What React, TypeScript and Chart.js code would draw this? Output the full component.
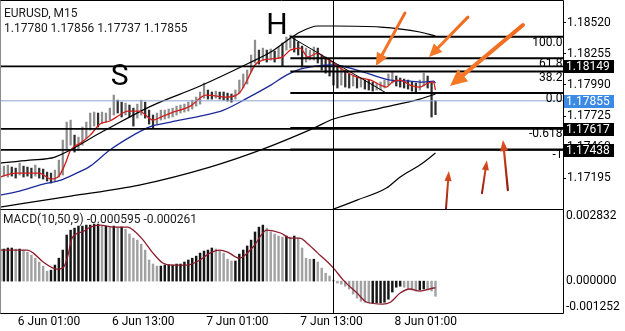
import React, { useEffect, useRef } from 'react';
import { Chart, registerables } from 'chart.js';

Chart.register(...registerables);

const FONT_FAMILY = 'Roboto, "Noto Sans", "DejaVu Sans", sans-serif';

// ---------- time axis: index of the M15 bar ----------
const X_MIN = 0;
const X_MAX = 287;
const BAR_STEP = 2;
const TIME_TICKS = [25, 73, 121, 169, 217];
const TIME_LABELS = ['6 Jun 01:00', '6 Jun 13:00', '7 Jun 01:00', '7 Jun 13:00', '8 Jun 01:00'];
const VLINE_INDEX = 170;

// ---------- price panel ----------
const PRICE_MIN = 1.16934;
const PRICE_MAX = 1.18705;
const PRICE_TICKS = [1.17195, 1.1746, 1.17725, 1.1799, 1.18255, 1.1852];

const HIGHS = [
  1.17282, 1.17299, 1.17308, 1.17291, 1.17282, 1.17325, 1.17299, 1.17291, 1.17282, 1.17308,
  1.17282, 1.17274, 1.17248, 1.1724, 1.17265, 1.1735, 1.17521, 1.17674, 1.17691, 1.17563,
  1.17546, 1.17632, 1.17674, 1.17751, 1.17759, 1.17751, 1.17759, 1.17751, 1.17793, 1.17904,
  1.17861, 1.17844, 1.17836, 1.17819, 1.17793, 1.17827, 1.17861, 1.17844, 1.17776, 1.17734,
  1.17751, 1.17776, 1.17776, 1.17785, 1.17793, 1.1781, 1.17819, 1.17827, 1.17844, 1.17861,
  1.17887, 1.1793, 1.18006, 1.17947, 1.1793, 1.17938, 1.1793, 1.1793, 1.17921, 1.17913,
  1.17947, 1.18032, 1.18083, 1.18117, 1.18245, 1.18372, 1.18287, 1.18304, 1.18287, 1.18296,
  1.18279, 1.18313, 1.18347, 1.18398, 1.18415, 1.18389, 1.18355, 1.18321, 1.18304, 1.18287,
  1.18313, 1.18304, 1.18245, 1.18228, 1.18202, 1.18177, 1.1816, 1.18142, 1.18117, 1.18083,
  1.18066, 1.18057, 1.18049, 1.18032, 1.18032, 1.18015, 1.18006, 1.18015, 1.18032, 1.18083,
  1.181, 1.18066, 1.18049, 1.1804, 1.18032, 1.18015, 1.18006, 1.18032, 1.18091, 1.18066,
  1.18015, 1.17856,
];
const LOWS = [
  1.17197, 1.17214, 1.17206, 1.17214, 1.17197, 1.17223, 1.17206, 1.17214, 1.17197, 1.17214,
  1.17197, 1.17189, 1.17172, 1.17155, 1.17172, 1.17206, 1.17223, 1.17436, 1.17478, 1.17419,
  1.17436, 1.17478, 1.17538, 1.17606, 1.1764, 1.17632, 1.17666, 1.17674, 1.17691, 1.17734,
  1.17751, 1.17717, 1.17734, 1.17717, 1.1764, 1.17708, 1.17734, 1.17708, 1.17657, 1.17623,
  1.17657, 1.17691, 1.177, 1.17708, 1.17717, 1.17734, 1.17751, 1.17759, 1.17768, 1.17785,
  1.1781, 1.17827, 1.17878, 1.1787, 1.1787, 1.17878, 1.1787, 1.17861, 1.17853, 1.17844,
  1.1787, 1.17921, 1.17964, 1.17998, 1.181, 1.18177, 1.18168, 1.18202, 1.18185, 1.18202,
  1.18185, 1.18219, 1.18151, 1.18287, 1.18304, 1.1827, 1.18245, 1.18142, 1.18185, 1.18202,
  1.18202, 1.18177, 1.18117, 1.18091, 1.18066, 1.17989, 1.17964, 1.17989, 1.17972, 1.17964,
  1.17981, 1.17964, 1.17972, 1.17955, 1.17947, 1.17938, 1.17947, 1.17947, 1.17964, 1.17989,
  1.18006, 1.17981, 1.17972, 1.17964, 1.17955, 1.17938, 1.1793, 1.17947, 1.17981, 1.17964,
  1.17717, 1.17737,
];

// indicator lines: [bar index, price]
const MA_FAST = [
  [0, 1.17206], [8, 1.1724], [20, 1.1724], [26, 1.17189], [30, 1.17214], [33, 1.17308],
  [36, 1.17436], [41, 1.17495], [46, 1.17563], [51, 1.17657], [56, 1.17683], [61, 1.17734],
  [65, 1.17768], [71, 1.17768], [78, 1.17691], [82, 1.17717], [87, 1.17751], [97, 1.1781],
  [105, 1.17904], [116, 1.17887], [122, 1.17921], [126, 1.18032], [130, 1.1816], [134, 1.18202],
  [144, 1.18228], [148, 1.18287], [153, 1.18304], [157, 1.18228], [162, 1.18262], [165, 1.18228],
  [170, 1.18177], [175, 1.18117], [182, 1.18057], [189, 1.18032], [194, 1.17989], [197, 1.17972],
  [200, 1.18015], [204, 1.18032], [209, 1.17989], [214, 1.17972], [218, 1.18006], [221, 1.18015],
  [222, 1.17947],
];
const MA_MID = [
  [0, 1.17052], [10, 1.17086], [22, 1.17146], [31, 1.1718], [38, 1.17231], [46, 1.17299],
  [56, 1.17436], [68, 1.17563], [76, 1.17632], [87, 1.17674], [102, 1.17725], [114, 1.17776],
  [127, 1.17887], [138, 1.17989], [146, 1.18074], [153, 1.18125], [161, 1.18151], [170, 1.1816],
  [182, 1.18117], [199, 1.18032], [209, 1.18023], [216, 1.18015], [221, 1.18023], [222, 1.18006],
];
const BAND_UPPER = [
  [0, 1.17325], [15, 1.1735], [28, 1.17376], [51, 1.17581], [77, 1.1781], [102, 1.17981],
  [127, 1.18177], [138, 1.1827], [146, 1.18364], [153, 1.18441], [162, 1.18492], [170, 1.18492],
  [194, 1.18483], [214, 1.18441], [222, 1.18406],
];
const MA_SLOW = [
  [0, 1.1695], [36, 1.17044], [71, 1.17138], [107, 1.17291], [134, 1.17444], [160, 1.17623],
  [170, 1.177], [194, 1.17793], [214, 1.1787], [222, 1.17913],
];
const MA_SLOWEST = [
  [163, 1.16891], [170, 1.16933], [182, 1.1701], [197, 1.17112], [204, 1.17206], [214, 1.17308],
  [222, 1.1741],
];

const HLINES = [1.18149, 1.17617, 1.17438];
const CURRENT_PRICE = 1.17855;

const FIB_HIGH = 1.18401;
const FIB_LOW = 1.17921;
const FIB_START = 148;
const FIB_END = 197;
const FIB_LEVELS = [100, 61.8, 38.2, 0, -61.8, -100];
const FIB_LABELS = ['100.0', '61.8', '38.2', '0.0', '-0.618', '-1'];

const BOX_PRICES = [1.18149, 1.17855, 1.17617, 1.17438];
const BOX_LABELS = ['1.18149', '1.17855', '1.17617', '1.17438'];

const PATTERN_LABELS = ['S', 'H'];
const PATTERN_POS = [[61, 1.18057], [141.2, 1.18492]];

const ARROW_TAILS = [[206.4, 1.18602], [238.5, 1.18568], [266.6, 1.185], [227.3, 1.16925], [245.7, 1.17069], [258.9, 1.17095]];
const ARROW_HEADS = [[191.6, 1.18151], [218.7, 1.18228], [229.4, 1.17981], [228.8, 1.17257], [248.2, 1.1735], [256.4, 1.17521]];

const HEADER_TITLE = 'EURUSD, M15';
const HEADER_OHLC = '1.17780 1.17856 1.17737 1.17855';

// ---------- MACD panel ----------
const MACD_MIN = -0.001252;
const MACD_MAX = 0.002832;
const MACD_AXIS_VALUES = [0.002832, 0, -0.001252];
const MACD_AXIS_LABELS = ['0.002832', '0.000000', '-0.001252'];
const MACD_TITLE = 'MACD(10,50,9) -0.000595 -0.000261';
const MACD_HIST = [
  0.00126, 0.00126, 0.0013, 0.0013, 0.00126, 0.00126, 0.00122, 0.00114, 0.00102, 0.0009,
  0.00075, 0.00059, 0.00039, 0.00043, 0.00063, 0.0009, 0.00122, 0.00181, 0.002, 0.00208,
  0.00216, 0.00216, 0.0022, 0.0022, 0.00224, 0.00224, 0.00216, 0.00216, 0.00212, 0.00216,
  0.00212, 0.00212, 0.00204, 0.00185, 0.00169, 0.00161, 0.00145, 0.00122, 0.00083, 0.00067,
  0.00059, 0.00059, 0.00063, 0.00063, 0.00063, 0.00067, 0.00067, 0.00075, 0.00083, 0.0009,
  0.00098, 0.0011, 0.00118, 0.00122, 0.0013, 0.00126, 0.00118, 0.0011, 0.00086, 0.00079,
  0.00079, 0.00106, 0.00122, 0.00138, 0.00161, 0.00193, 0.00212, 0.0022, 0.00208, 0.00193,
  0.00185, 0.00177, 0.00173, 0.00177, 0.00173, 0.00177, 0.00169, 0.0013, 0.0009, 0.00086,
  0.00086, 0.00075, 0.00051, 0.00031, 0.0002, 0.00004, -0.00008, -0.00012, -0.0002, -0.00031,
  -0.00051, -0.00067, -0.00079, -0.00083, -0.00086, -0.00086, -0.00086, -0.00086, -0.00083, -0.00071,
  -0.00043, -0.00024, -0.0002, -0.00024, -0.00031, -0.00035, -0.00039, -0.00035, -0.00031, -0.00035,
  -0.00039, -0.000595,
];
const MACD_SIGNAL = [
  [0, 0.00122], [14, 0.00122], [17, 0.0011], [22, 0.00075], [29, 0.00047], [32, 0.00051],
  [34, 0.00083], [37, 0.00173], [42, 0.00193], [46, 0.00212], [51, 0.0022], [58, 0.00212],
  [65, 0.00212], [68, 0.002], [73, 0.00161], [78, 0.0011], [83, 0.00071], [88, 0.00063],
  [95, 0.00063], [102, 0.00083], [107, 0.0011], [112, 0.00122], [116, 0.00114], [122, 0.0009],
  [129, 0.00134], [136, 0.002], [143, 0.00189], [148, 0.00169], [153, 0.00169], [156, 0.00153],
  [162, 0.0011], [167, 0.00075], [170, 0.00051], [175, 0.00004], [182, -0.00047], [187, -0.00083],
  [195, -0.0009], [199, -0.00083], [204, -0.00047], [209, -0.00031], [214, -0.00039], [221, -0.00027],
  [222, -0.000261],
];

// ---------- helpers ----------
const font = (size: number) => `${size}px ${FONT_FAMILY}`;
const pts = (arr: number[][]) => arr.map(([x, y]) => ({ x, y }));
const hline = (price: number, x0 = X_MIN, x1 = X_MAX) => [{ x: x0, y: price }, { x: x1, y: price }];
const fibPrice = (lv: number) => FIB_LOW + ((FIB_HIGH - FIB_LOW) * lv) / 100;

const smoothLine = (data: any, color: string, width = 1.3) => ({
  type: 'line',
  data,
  borderColor: color,
  borderWidth: width,
  pointRadius: 0,
  fill: false,
  tension: 0.4,
  cubicInterpolationMode: 'monotone',
});
const straightLine = (data: any, color: string, width: number) => ({
  type: 'line',
  data,
  borderColor: color,
  borderWidth: width,
  pointRadius: 0,
  fill: false,
  tension: 0,
});

const ARROW_STYLES = [
  { c0: '#f06a1e', c1: '#f47a28', w: 3, hl: 13, hw: 12 },
  { c0: '#f06a1e', c1: '#f47a28', w: 3, hl: 13, hw: 12 },
  { c0: '#f06a1e', c1: '#f47a28', w: 4, hl: 17, hw: 16 },
  { c0: '#8d1a12', c1: '#e3501e', w: 2, hl: 10, hw: 7 },
  { c0: '#8d1a12', c1: '#e3501e', w: 2, hl: 10, hw: 7 },
  { c0: '#8d1a12', c1: '#e3501e', w: 2.2, hl: 11, hw: 8 },
];

function drawArrow(ctx: CanvasRenderingContext2D, x1: number, y1: number, x2: number, y2: number, st: any) {
  const ang = Math.atan2(y2 - y1, x2 - x1);
  const bx = x2 - st.hl * Math.cos(ang);
  const by = y2 - st.hl * Math.sin(ang);
  const g = ctx.createLinearGradient(x1, y1, x2, y2);
  g.addColorStop(0, st.c0);
  g.addColorStop(1, st.c1);
  ctx.strokeStyle = g;
  ctx.fillStyle = g;
  ctx.lineWidth = st.w;
  ctx.lineCap = 'round';
  ctx.beginPath();
  ctx.moveTo(x1, y1);
  ctx.lineTo(bx, by);
  ctx.stroke();
  const hx = (st.hw / 2) * Math.sin(ang);
  const hy = (st.hw / 2) * Math.cos(ang);
  ctx.beginPath();
  ctx.moveTo(x2, y2);
  ctx.lineTo(bx + hx, by - hy);
  ctx.lineTo(bx - hx, by + hy);
  ctx.closePath();
  ctx.fill();
}

function drawFrame(chart: any) {
  const { ctx, chartArea: a } = chart;
  const xs = chart.scales.x;
  ctx.save();
  ctx.lineWidth = 1;
  ctx.strokeStyle = '#000';
  const top = Math.round(a.top) - 0.5 < 0 ? 0.5 : Math.round(a.top) - 0.5;
  const bottom = Math.round(a.bottom) + 0.5;
  const right = Math.round(a.right) + 0.5;
  ctx.beginPath();
  ctx.moveTo(0, top);
  ctx.lineTo(right, top);
  ctx.lineTo(right, bottom);
  ctx.lineTo(0, bottom);
  ctx.stroke();
  ctx.strokeStyle = '#8c8c8c';
  ctx.beginPath();
  ctx.moveTo(0.5, top);
  ctx.lineTo(0.5, bottom);
  ctx.stroke();
  // vertical marker line
  const vx = Math.round(xs.getPixelForValue(VLINE_INDEX)) + 0.5;
  ctx.strokeStyle = '#000';
  ctx.beginPath();
  ctx.moveTo(vx, top);
  ctx.lineTo(vx, bottom);
  ctx.stroke();
  ctx.restore();
}

const mainOverlay = {
  id: 'mainOverlay',
  afterDraw(chart: any) {
    const { ctx, chartArea: a } = chart;
    const xs = chart.scales.x;
    const ys = chart.scales.y;
    drawFrame(chart);
    ctx.save();
    // fibonacci level labels
    ctx.font = font(12);
    ctx.fillStyle = '#000';
    ctx.textAlign = 'right';
    ctx.textBaseline = 'middle';
    FIB_LEVELS.forEach((lv, k) => {
      const py = ys.getPixelForValue(fibPrice(lv));
      ctx.fillText(FIB_LABELS[k], a.right - 0.5, py + 6);
    });
    // price boxes on the axis
    ctx.textAlign = 'left';
    BOX_PRICES.forEach((p, k) => {
      const py = ys.getPixelForValue(p);
      ctx.fillStyle = k === 1 ? '#3b8be5' : '#000';
      ctx.fillRect(a.right + 1, Math.round(py) - 6, 50, 13);
      ctx.fillStyle = '#fff';
      ctx.fillText(BOX_LABELS[k], a.right + 3, Math.round(py) + 0.5);
    });
    // pattern letters
    ctx.font = font(30);
    ctx.fillStyle = '#000';
    ctx.textAlign = 'center';
    PATTERN_LABELS.forEach((t, k) => {
      const [ix, pr] = PATTERN_POS[k];
      ctx.fillText(t, xs.getPixelForValue(ix), ys.getPixelForValue(pr));
    });
    // arrows
    ARROW_TAILS.forEach((tail, k) => {
      const head = ARROW_HEADS[k];
      drawArrow(
        ctx,
        xs.getPixelForValue(tail[0]), ys.getPixelForValue(tail[1]),
        xs.getPixelForValue(head[0]), ys.getPixelForValue(head[1]),
        ARROW_STYLES[k],
      );
    });
    // header
    ctx.font = font(12);
    ctx.fillStyle = '#1a1a1a';
    ctx.textAlign = 'left';
    ctx.textBaseline = 'middle';
    ctx.fillText(HEADER_TITLE, 4, 13.5);
    ctx.fillText(HEADER_OHLC, 4, 28.5);
    ctx.restore();
  },
};

const macdOverlay = {
  id: 'macdOverlay',
  afterDraw(chart: any) {
    const { ctx, chartArea: a } = chart;
    const ys = chart.scales.y;
    drawFrame(chart);
    ctx.save();
    ctx.font = font(12);
    ctx.fillStyle = '#1a1a1a';
    ctx.textAlign = 'left';
    ctx.textBaseline = 'middle';
    ctx.fillText(MACD_TITLE, 3, 10.5);
    ctx.fillStyle = '#000';
    MACD_AXIS_VALUES.forEach((v, k) => {
      let py = ys.getPixelForValue(v);
      py = Math.min(Math.max(py, a.top + 7), a.bottom - 6);
      ctx.fillText(MACD_AXIS_LABELS[k], a.right + 3, py);
    });
    ctx.restore();
  },
};

const zeroPad = (s: any) => {
  s.paddingTop = 0;
  s.paddingBottom = 0;
  s.paddingLeft = 0;
  s.paddingRight = 0;
};

function mainConfig(): any {
  const mids = HIGHS.map((h, k) => (h + LOWS[k]) / 2);
  const barColors = mids.map((m, k) => (k > 0 && m < mids[k - 1] ? '#2e2e2e' : '#8e8e8e'));
  return {
    type: 'bar',
    data: {
      datasets: [
        ...FIB_LEVELS.map((lv) => straightLine(hline(fibPrice(lv), FIB_START, X_MAX), '#000', 2)),
        straightLine([{ x: FIB_START, y: FIB_HIGH }, { x: FIB_END, y: FIB_LOW }], '#000', 1),
        ...HLINES.map((p) => straightLine(hline(p), '#000', 1.7)),
        straightLine(hline(CURRENT_PRICE), '#8ea6cf', 1),
        smoothLine(pts(MA_FAST), '#d21e1a'),
        smoothLine(pts(MA_MID), '#1b2a9a'),
        smoothLine(pts(BAND_UPPER), '#000', 1.2),
        smoothLine(pts(MA_SLOW), '#000', 1.2),
        smoothLine(pts(MA_SLOWEST), '#000', 1.2),
        {
          type: 'bar',
          data: HIGHS.map((h, k) => ({ x: k * BAR_STEP, y: [LOWS[k], h] })),
          backgroundColor: barColors,
          borderWidth: 0,
          barThickness: 1.6,
        },
      ],
    },
    options: {
      animation: false,
      responsive: false,
      maintainAspectRatio: false,
      events: [],
      layout: { padding: { top: 1, bottom: 1, left: 0, right: 0 }, autoPadding: false },
      plugins: { legend: { display: false }, tooltip: { enabled: false } },
      scales: {
        x: { type: 'linear', min: X_MIN, max: X_MAX, offset: false, display: false },
        y: {
          type: 'linear',
          position: 'right',
          min: PRICE_MIN,
          max: PRICE_MAX,
          afterBuildTicks: (s: any) => {
            s.ticks = PRICE_TICKS.map((v) => ({ value: v }));
          },
          afterFit: (s: any) => {
            s.width = 62;
            zeroPad(s);
          },
          grid: { drawOnChartArea: false, drawTicks: true, tickLength: 3, color: '#000' },
          border: { display: false },
          ticks: {
            color: '#000',
            font: { family: FONT_FAMILY, size: 12 },
            padding: 1,
            callback: (v: any) => Number(v).toFixed(5),
          },
        },
      },
    },
    plugins: [mainOverlay],
  };
}

function macdConfig(): any {
  const histColors = MACD_HIST.map((v, k) => (k > 0 && v < MACD_HIST[k - 1] ? '#a2a2a2' : '#161616'));
  return {
    type: 'bar',
    data: {
      datasets: [
        smoothLine(pts(MACD_SIGNAL), '#8e1b2c', 1.3),
        {
          type: 'bar',
          data: MACD_HIST.map((v, k) => ({ x: k * BAR_STEP, y: v })),
          backgroundColor: histColors,
          borderWidth: 0,
          barThickness: 1.8,
        },
      ],
    },
    options: {
      animation: false,
      responsive: false,
      maintainAspectRatio: false,
      events: [],
      layout: { padding: { top: 0, bottom: 0, left: 0, right: 0 }, autoPadding: false },
      plugins: { legend: { display: false }, tooltip: { enabled: false } },
      scales: {
        x: {
          type: 'linear',
          position: 'bottom',
          min: X_MIN,
          max: X_MAX,
          offset: false,
          afterBuildTicks: (s: any) => {
            s.ticks = TIME_TICKS.map((v) => ({ value: v }));
          },
          afterFit: (s: any) => {
            s.height = 18;
            zeroPad(s);
          },
          grid: { display: false, drawTicks: false },
          border: { display: false },
          ticks: {
            autoSkip: false,
            maxRotation: 0,
            color: '#000',
            font: { family: FONT_FAMILY, size: 12 },
            padding: 2,
            callback: (_v: any, i: number) => TIME_LABELS[i],
          },
        },
        y: {
          type: 'linear',
          position: 'right',
          min: MACD_MIN,
          max: MACD_MAX,
          afterFit: (s: any) => {
            s.width = 62;
            zeroPad(s);
          },
          grid: { display: false, drawTicks: false },
          border: { display: false },
          ticks: { display: false },
        },
      },
    },
    plugins: [macdOverlay],
  };
}

export default function App() {
  const mainRef = useRef<HTMLCanvasElement>(null);
  const macdRef = useRef<HTMLCanvasElement>(null);
  useEffect(() => {
    Chart.defaults.font.family = FONT_FAMILY;
    const c1 = new Chart(mainRef.current as HTMLCanvasElement, mainConfig());
    const c2 = new Chart(macdRef.current as HTMLCanvasElement, macdConfig());
    return () => {
      c1.destroy();
      c2.destroy();
    };
  }, []);
  return (
    <div style={{ position: 'fixed', left: 0, top: 0, width: 625, height: 331, background: '#fff', overflow: 'hidden' }}>
      <canvas ref={mainRef} width={625} height={210} style={{ position: 'absolute', left: 0, top: 0 }} />
      <canvas ref={macdRef} width={625} height={122} style={{ position: 'absolute', left: 0, top: 209 }} />
    </div>
  );
}
